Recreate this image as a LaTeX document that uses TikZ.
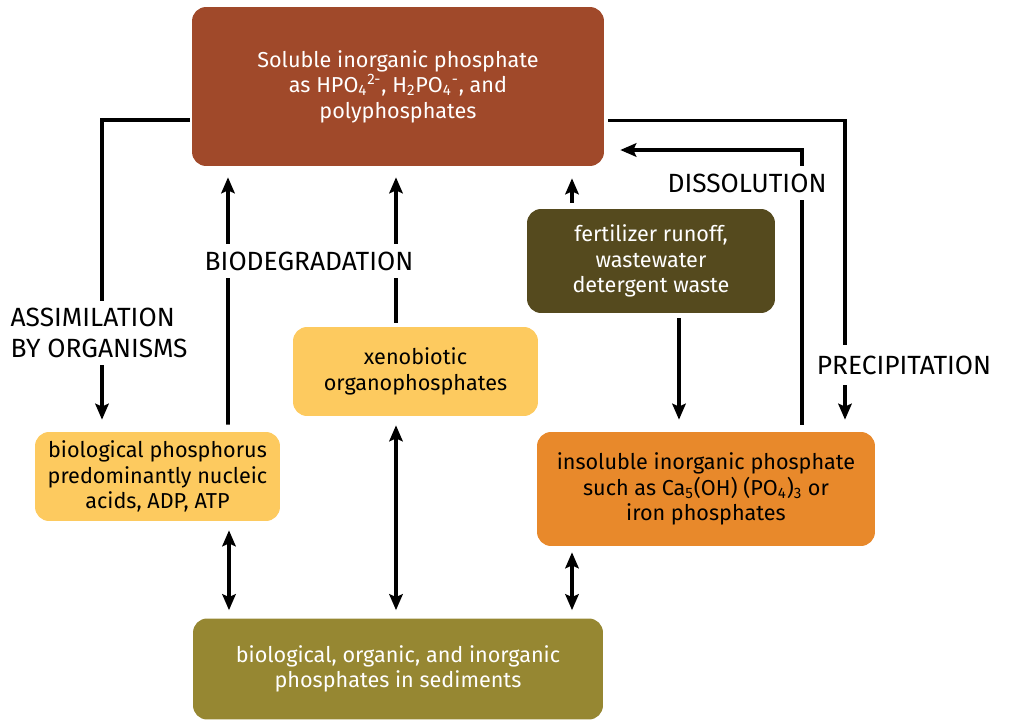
\documentclass[tikz,border=0pt]{standalone}
\usepackage{fontspec}
\setmainfont{Fira Sans}
\usetikzlibrary{arrows.meta,calc}
\definecolor{cTop}{HTML}{A0492A}
\definecolor{cFert}{HTML}{554A1E}
\definecolor{cYel}{HTML}{FDCA5F}
\definecolor{cIns}{HTML}{E8892B}
\definecolor{cSed}{HTML}{968732}
\tikzset{
  box/.style={rounded corners=8pt, align=center, inner sep=0pt,
    font=\fontsize{12.3}{14.5}\selectfont},
  lbl/.style={fill=white, inner sep=3pt, align=left,
    font=\fontsize{15}{17.5}\selectfont},
  arr/.style={line width=2.1pt, -{Stealth[length=0.32cm,width=0.27cm,inset=0.06cm]}},
  darr/.style={line width=2.1pt, {Stealth[length=0.32cm,width=0.27cm,inset=0.06cm]}-{Stealth[length=0.32cm,width=0.27cm,inset=0.06cm]}}
}
\begin{document}
\begin{tikzpicture}[x=0.02cm,y=-0.02cm]
\useasboundingbox (0,0) rectangle (1009,720);
% boxes
\node[box, fill=cTop, text=white, minimum width=8.24cm, minimum height=3.18cm] (top) at (398,86.5)
  {Soluble inorganic phosphate\\as HPO\textsubscript{4}\textsuperscript{2-}, H\textsubscript{2}PO\textsubscript{4}\textsuperscript{-}, and\\polyphosphates};
\node[box, fill=cFert, text=white, minimum width=4.96cm, minimum height=2.08cm] (fert) at (651,261)
  {fertilizer runoff,\\wastewater\\detergent waste};
\node[box, fill=cYel, text=black, minimum width=4.9cm, minimum height=1.78cm] (xeno) at (415.5,371.5)
  {xenobiotic\\organophosphates};
\node[box, fill=cYel, text=black, minimum width=4.9cm, minimum height=1.78cm] (bio) at (157.5,476.5)
  {biological phosphorus\\predominantly nucleic\\acids, ADP, ATP};
\node[box, fill=cIns, text=black, minimum width=6.76cm, minimum height=2.28cm] (insol) at (706,489)
  {insoluble inorganic phosphate\\such as Ca\textsubscript{5}(OH) (PO\textsubscript{4})\textsubscript{3} or\\iron phosphates};
\node[box, fill=cSed, text=white, minimum width=8.2cm, minimum height=2.02cm] (sed) at (398,669)
  {biological, organic, and inorganic\\phosphates in sediments};
% connectors
\draw[arr] ($(top.west)+(-2,33.5)$) -| ($(bio.north)+(-55.5,-12)$);
\draw[arr] ($(bio.north)+(70.5,-7)$) -- ($(top.south)+(-170,11)$);
\draw[arr] ($(xeno.north)+(-19.5,-4)$) -- ($(top.south)+(-2,11)$);
\draw[arr] ($(fert.north)+(-79,-6)$) -- ($(top.south)+(174,12)$);
\draw[arr] ($(fert.south)+(28,5)$) -- ($(insol.north)+(-27,-12)$);
\draw[arr] ($(insol.north)+(96,-7)$) |- ($(top.east)+(16,63.5)$);
\draw[arr] ($(top.east)+(4,34)$) -| ($(insol.north)+(139,-12)$);
\draw[darr] ($(bio.south)+(71.5,9)$) -- ($(sed.north)+(-169,-8)$);
\draw[darr] ($(xeno.south)+(-19.5,9)$) -- ($(sed.north)+(-2,-8)$);
\draw[darr] ($(insol.south)+(-134,6)$) -- ($(sed.north)+(174,-8)$);
% labels
\node[lbl, anchor=west, minimum height=1.3cm] (lassim) at (5,333) {ASSIMILATION\\BY ORGANISMS};
\node[lbl, minimum height=0.68cm] (lbiodeg) at (309,261) {BIODEGRADATION};
\node[lbl, minimum height=0.7cm] (ldiss) at (747,183) {DISSOLUTION};
\node[lbl, minimum height=0.8cm] (lprec) at (904,365) {PRECIPITATION};
\end{tikzpicture}
\end{document}
